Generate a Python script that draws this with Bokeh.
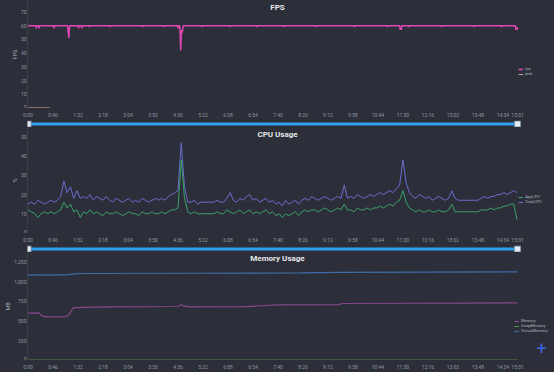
from bokeh.plotting import figure
from bokeh.layouts import column
from bokeh.models import (Range1d, FixedTicker, Label, Legend, LegendItem,
                          NumeralTickFormatter)
from bokeh.embed import file_html
from bokeh.resources import INLINE

# ---------------- data ----------------
tick_secs = [0, 46, 92, 138, 184, 230, 276, 322, 368, 414, 460, 506, 552,
             598, 644, 690, 736, 782, 828, 874, 901]
tick_labels = ["0:00", "0:46", "1:32", "2:18", "3:04", "3:50", "4:36", "5:22",
               "6:08", "6:54", "7:40", "8:26", "9:12", "9:58", "10:44", "11:30",
               "12:16", "13:02", "13:48", "14:34", "15:01"]
time_start, time_end = 0, 901

# FPS samples (seconds, fps)
fps_samples = [(0, 60), (14, 60), (15, 58), (16, 60), (19, 60), (20, 58), (21, 60),
               (47, 60), (48, 58), (49, 60), (73, 60), (74, 55), (75, 51), (76, 58),
               (77, 60), (92, 60), (93, 58), (94, 60), (98, 60), (99, 58), (100, 60),
               (112, 60), (113, 59), (114, 60), (150, 60), (151, 59), (152, 60),
               (210, 60), (211, 59), (212, 60), (250, 60), (251, 59), (252, 60),
               (275, 60), (276, 58), (277, 60), (279, 60), (280, 55), (281, 42),
               (282, 53), (283, 57), (284, 55), (285, 58), (286, 60), (320, 60),
               (321, 59), (322, 60), (370, 60), (371, 59), (372, 60), (420, 60),
               (421, 59), (422, 60), (470, 60), (471, 59), (472, 60), (530, 60),
               (531, 59), (532, 60), (600, 60), (601, 59), (602, 60), (660, 60),
               (661, 59), (662, 60), (684, 60), (685, 57), (686, 58), (687, 57),
               (688, 60), (700, 60), (701, 59), (702, 60), (760, 60), (761, 59),
               (762, 60), (820, 60), (821, 59), (822, 60), (870, 60), (871, 59),
               (872, 60), (897, 60), (898, 57), (899, 58), (900, 57), (901, 59)]
fps_t = [s[0] for s in fps_samples]
fps_v = [s[1] for s in fps_samples]
jank_t = [0, 40]
jank_v = [0, 0]

# CPU (%), one sample every 6 s
total_cpu = [15, 16, 15, 17, 16, 15, 16, 17, 16, 17,
             19,
             27, 21, 24, 18, 22, 18, 19,
             18, 20, 17, 19, 18, 17, 19,
             17, 16, 18, 17, 16, 17, 18, 16, 17, 16, 18, 17, 16, 17, 18, 17,
             18, 17, 19, 20, 21,
             22, 47, 24, 16,
             16, 17, 15, 16, 16, 16, 16, 16, 17, 16, 16,
             18, 21, 17, 16, 18, 17, 19, 20, 17, 18, 16, 17, 18, 16, 17,
             15, 16, 14, 17, 15, 16, 17, 15, 17,
             18, 17, 19, 18, 17, 18, 19, 18, 17, 18, 19, 18,
             25,
             18, 19, 18, 20, 19, 18, 19, 20, 19, 20, 21, 20, 21,
             22, 21, 23, 25,
             38, 26, 21,
             19, 18, 20, 19, 18, 19, 17, 18, 19, 18, 17, 18,
             22,
             18, 17, 17, 17, 17, 17, 17, 17,
             18, 19, 18, 19, 19, 20, 20, 21, 20, 21, 22, 21]
app_cpu = [12, 11, 10, 8, 10, 11, 10, 11, 10, 11,
           12,
           16, 13, 15, 11, 12, 8, 11,
           10, 12, 10, 11, 10, 9, 11,
           10, 10, 11, 10, 9, 10, 11, 10, 10, 9, 11, 10, 10, 11, 10, 10,
           11, 10, 11, 12, 12,
           13, 38, 18, 11,
           10, 11, 10, 10, 10, 10, 10, 10, 11, 10, 10,
           12, 11, 10, 11, 12, 10, 11, 12, 10, 11, 10, 11, 12, 10, 11,
           9, 10, 8, 10, 9, 10, 11, 9, 11,
           12, 11, 12, 12, 11, 12, 13, 12, 11, 12, 13, 12,
           15,
           12, 12, 11, 13, 12, 12, 13, 12, 13, 13, 14, 13, 14,
           15, 14, 16, 17,
           22, 16, 13,
           12, 11, 12, 11, 11, 12, 11, 11, 12, 11, 11, 12,
           15,
           11, 11, 11, 11, 11, 11, 11, 11,
           12, 12, 12, 13, 12, 13, 13, 14, 14, 15, 15, 7]
cpu_t = [6 * i for i in range(len(total_cpu))]

# Memory (MB)
mem_t = [0, 20, 25, 35, 70, 75, 83, 103, 150, 270, 278, 282, 287, 300, 400,
         420, 460, 570, 580, 700, 800, 901]
mem_v = [600, 602, 565, 552, 553, 580, 665, 672, 680, 684, 690, 708, 688, 680,
         682, 690, 705, 708, 722, 725, 728, 730]
virt_t = [0, 40, 75, 85, 105, 300, 500, 570, 901]
virt_v = [1088, 1085, 1090, 1100, 1105, 1108, 1112, 1120, 1125]
swap_t = [0, 901]
swap_v = [0, 0]

# ---------------- style ----------------
BG = "#2c2f39"
FONT = "Roboto"
TXT = "#8e95a1"
W = 554
LB = 27

x_range = Range1d(-1, 969)


def base(height, y_range, **kw):
    p = figure(width=W, height=height, x_range=x_range, y_range=y_range,
               output_backend="svg", toolbar_location=None,
               background_fill_color=BG, border_fill_color=BG,
               outline_line_color=None, min_border_left=LB, min_border_right=0,
               **kw)
    p.title.visible = False
    p.grid.visible = False
    return p


def main_fig(height, y0, y1, yticks, ylabel):
    p = base(height, Range1d(y0, y1), x_axis_location=None,
             min_border_top=0, min_border_bottom=0)
    ax = p.yaxis[0]
    ax.ticker = FixedTicker(ticks=yticks)
    ax.major_label_text_font = FONT
    ax.major_label_text_font_size = "5px"
    ax.major_label_text_color = TXT
    ax.major_tick_line_color = None
    ax.minor_tick_line_color = None
    ax.major_tick_out = 0
    ax.major_tick_in = 0
    ax.minor_tick_out = 0
    ax.minor_tick_in = 0
    ax.axis_line_color = "#3c404b"
    ax.major_label_standoff = 1
    ax.axis_label = ylabel
    ax.axis_label_text_font = FONT
    ax.axis_label_text_font_size = "5.5px"
    ax.axis_label_text_font_style = "normal"
    ax.axis_label_text_color = "#a8aeb8"
    ax.axis_label_standoff = 0
    return p


def slider_fig(height, top):
    s = base(height, Range1d(0, 1), x_axis_location="above", y_axis_type=None,
             min_border_top=top, min_border_bottom=0)
    ax = s.xaxis[0]
    ax.ticker = FixedTicker(ticks=tick_secs)
    ax.major_label_overrides = {t: l for t, l in zip(tick_secs, tick_labels)}
    ax.major_label_text_font = FONT
    ax.major_label_text_font_size = "5px"
    ax.major_label_text_color = TXT
    ax.major_tick_line_color = None
    ax.minor_tick_line_color = None
    ax.major_tick_out = 0
    ax.major_tick_in = 0
    ax.minor_tick_out = 0
    ax.minor_tick_in = 0
    ax.axis_line_color = None
    ax.major_label_standoff = 3
    s.quad(left=[time_start], right=[time_end], bottom=[0.3], top=[0.7],
           fill_color="#2f9ff0", line_color=None)
    s.scatter(x=[time_start, time_end], y=[0.5, 0.5], marker="square", size=6,
              fill_color="#e4ebf2", line_color="#7f93a8", line_width=1)
    return s


def title(p, text, y):
    p.add_layout(Label(x=277 - LB, y=y, x_units="screen", y_units="screen",
                       text=text, text_font=FONT, text_font_size="8px",
                       text_font_style="bold", text_color="#e8e8ea",
                       text_align="center", text_baseline="middle"))


def legend(p, items, x, y):
    lg = Legend(items=[LegendItem(label=l, renderers=[r]) for l, r in items],
                location=(x, y), orientation="vertical",
                label_text_font=FONT, label_text_font_size="4px",
                label_text_color="#aeb4be", glyph_width=5, glyph_height=4,
                label_height=4, label_standoff=2, spacing=0, padding=0, margin=0,
                background_fill_alpha=0, border_line_alpha=0)
    p.add_layout(lg)


# ---------------- FPS ----------------
p1 = main_fig(108, -0.4, 78.35, [0, 10, 20, 30, 40, 50, 60, 70], "FPS")
r_jank = p1.line(jank_t, jank_v, line_color="#d8a092", line_width=1)
r_fps = p1.line(fps_t, fps_v, line_color="#e046b4", line_width=1.5)
legend(p1, [("fps", r_fps), ("jank", r_jank)], 491, 32)
title(p1, "FPS", 101)

# ---------------- CPU ----------------
p2 = main_fig(106, -0.3, 54.9, [0, 10, 20, 30, 40, 50], "%")
r_tot = p2.line(cpu_t, total_cpu, line_color="#6a6dcc", line_width=1)
r_app = p2.line(cpu_t, app_cpu, line_color="#3ca266", line_width=1)
legend(p2, [("AppCPU", r_app), ("TotalCPU", r_tot)], 491, 29)
title(p2, "CPU Usage", 99)

# ---------------- Memory ----------------
p3 = main_fig(108, -5, 1372.6, [0, 250, 500, 750, 1000, 1250], "MB")
p3.yaxis.formatter = NumeralTickFormatter(format="0,0")
r_swap = p3.line(swap_t, swap_v, line_color="#5b9a3b", line_width=1)
r_virt = p3.line(virt_t, virt_v, line_color="#3f6da6", line_width=1.2)
r_mem = p3.line(mem_t, mem_v, line_color="#86488a", line_width=1.2)
legend(p3, [("Memory", r_mem), ("SwapMemory", r_swap), ("VirtualMemory", r_virt)],
       487, 27)
title(p3, "Memory Usage", 102)
p3.add_layout(Label(x=541 - LB, y=12, x_units="screen", y_units="screen", text="+",
                    text_font=FONT, text_font_size="18px", text_color="#3d66e6",
                    text_align="center", text_baseline="middle"))

layout = column(p1, slider_fig(19, 12), p2, slider_fig(19, 12), p3,
                slider_fig(12, 10), spacing=0,
                styles={"background-color": BG})

open("out.html", "w").write(file_html(layout, INLINE))
